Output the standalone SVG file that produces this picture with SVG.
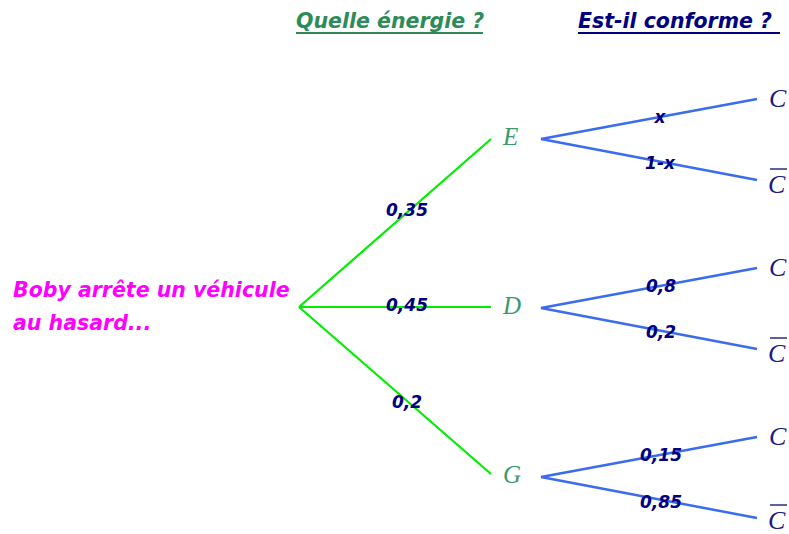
<svg xmlns="http://www.w3.org/2000/svg" width="789" height="534" viewBox="0 0 789 534">
<style>
.title{font-family:"DejaVu Sans","Liberation Sans",sans-serif;font-style:italic;font-weight:bold;font-size:20.5px}
.root{font-family:"DejaVu Sans","Liberation Sans",sans-serif;font-style:italic;font-weight:bold;font-size:20.5px;fill:#ff00ff}
.node1{font-family:"Liberation Serif","DejaVu Serif",serif;font-style:italic;font-size:25px;fill:#3a9a6a}
.node2{font-family:"Liberation Serif","DejaVu Serif",serif;font-style:italic;font-size:26px;fill:#1a1a80}
.lbl{font-family:"DejaVu Sans","Liberation Sans",sans-serif;font-style:italic;font-weight:bold;font-size:17px;fill:#000080;text-anchor:middle}
.g{stroke:#00ee00;stroke-width:2.2;fill:none}
.b{stroke:#3b6bef;stroke-width:2.5;fill:none}
.bar{stroke:#1a1a80;stroke-width:1.4}
</style>
<rect width="789" height="534" fill="#ffffff"/>
<g id="titles">
<text class="title" x="296" y="28" fill="#2e8b57">Quelle énergie ?</text>
<line x1="296" y1="33" x2="483" y2="33" stroke="#2e8b57" stroke-width="2"/>
<text class="title" x="578" y="28" fill="#000080">Est-il conforme ?</text>
<line x1="578" y1="33" x2="780" y2="33" stroke="#000080" stroke-width="2"/>
</g>
<g id="connectors">
<line class="g" x1="299" y1="307" x2="491" y2="139"/>
<line class="g" x1="299" y1="307" x2="491" y2="307"/>
<line class="g" x1="299" y1="307" x2="491" y2="474"/>
<line class="b" x1="541" y1="139" x2="757" y2="99"/>
<line class="b" x1="541" y1="139" x2="757" y2="180"/>
<line class="b" x1="541" y1="308" x2="757" y2="268"/>
<line class="b" x1="541" y1="308" x2="757" y2="349"/>
<line class="b" x1="541" y1="477" x2="757" y2="437"/>
<line class="b" x1="541" y1="477" x2="757" y2="518"/>
<text class="lbl" x="407" y="216">0,35</text>
<text class="lbl" x="407" y="311">0,45</text>
<text class="lbl" x="407" y="408">0,2</text>
<text class="lbl" x="660" y="123">x</text>
<text class="lbl" x="660" y="169">1-x</text>
<text class="lbl" x="661" y="292">0,8</text>
<text class="lbl" x="661" y="338">0,2</text>
<text class="lbl" x="661" y="461">0,15</text>
<text class="lbl" x="661" y="508">0,85</text>
</g>
<g id="root">
<text class="root" x="13" y="297">Boby arrête un véhicule</text>
<text class="root" x="13" y="330">au hasard...</text>
</g>
<g id="E"><text class="node1" x="503" y="145">E</text></g>
<g id="D"><text class="node1" x="503" y="314">D</text></g>
<g id="G"><text class="node1" x="503" y="483">G</text></g>
<g id="E-C"><text class="node2" x="769" y="107">C</text></g>
<g id="E-Cbar"><text class="node2" x="768" y="193">C</text><line class="bar" x1="770" y1="169" x2="787" y2="169"/></g>
<g id="D-C"><text class="node2" x="769" y="276">C</text></g>
<g id="D-Cbar"><text class="node2" x="768" y="362">C</text><line class="bar" x1="770" y1="338" x2="787" y2="338"/></g>
<g id="G-C"><text class="node2" x="769" y="445">C</text></g>
<g id="G-Cbar"><text class="node2" x="768" y="529">C</text><line class="bar" x1="770" y1="505" x2="787" y2="505"/></g>
</svg>
